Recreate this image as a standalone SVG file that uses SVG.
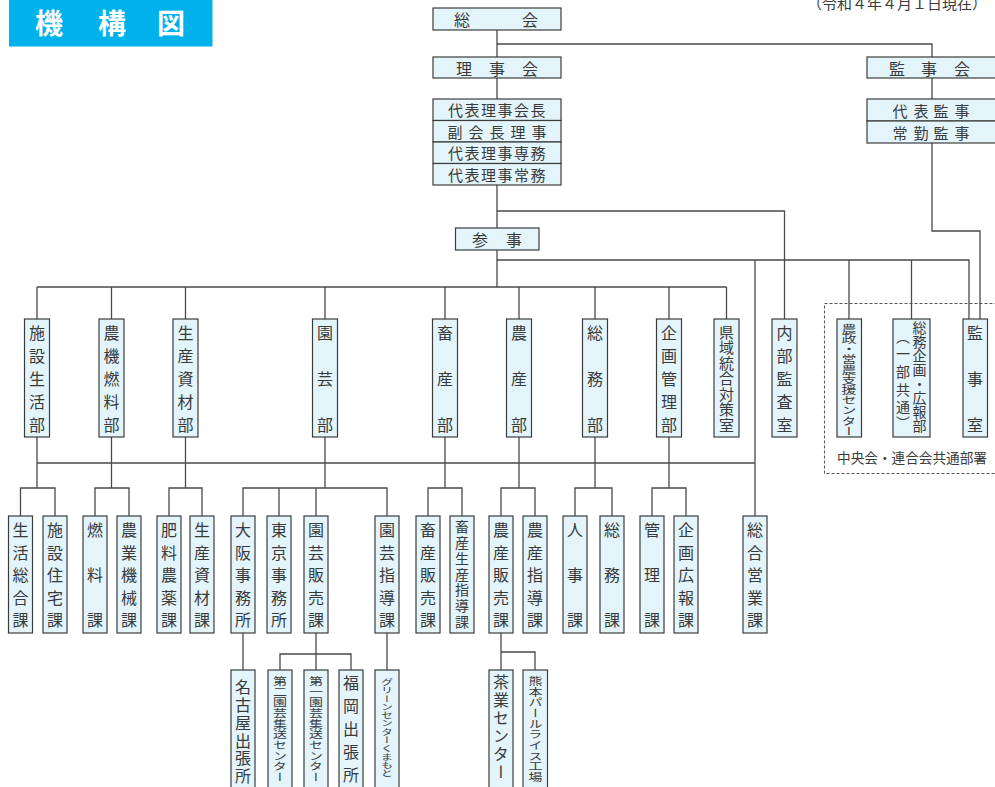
<svg xmlns="http://www.w3.org/2000/svg" width="995" height="787" viewBox="0 0 995 787">
<style>
.box{fill:#E3F4FB;stroke:#3c3c3c;stroke-width:1.2}
.ln{stroke:#4a4a4a;stroke-width:1.3;fill:none}
.t{font-family:"Noto Sans CJK JP","Noto Sans",sans-serif;fill:#3a3a3a;font-size:16px}
.h{dominant-baseline:central;text-anchor:middle}
.v{writing-mode:vertical-rl;text-anchor:middle}
.s14{font-size:14px}.s12{font-size:12px}.s15{font-size:15px}
.dash{fill:none;stroke:#555;stroke-width:1.1;stroke-dasharray:3 2}
</style>
<rect width="995" height="787" fill="#fff"/>
<g id="title"><rect x="9" y="-1" width="203.5" height="47.5" fill="#00B2EC"/><text class="h" x="49 112 171" y="22" font-family="'Noto Sans CJK JP',sans-serif" font-weight="bold" font-size="28" fill="#fff">機構図</text></g>
<text id="date" class="t s15" x="807" y="2" dominant-baseline="central">（令和４年４月１日現在）</text>
<g id="connectors" class="ln"><path d="M497 30V57M497 78V99M497 185V228M497 250V287M497 44H932V57M932 78V99M932 143V231H980V319M497 211H784.5V319M497 260H969V319M755 260V516M849 260V319M911.5 260V319M37 287H726.5M37 287V319M111.5 287V319M185.5 287V319M325 287V319M445 287V319M519 287V319M595 287V319M669 287V319M726.5 287V319M37 437V488M111.5 437V488M185.5 437V488M325 437V488M445 437V488M519 437V488M595 437V488M669 437V488M37 463H755M20.5 516V488H55V516M95 516V488H129V516M169 516V488H202V516M243 516V488H387V516M279 488V516M316 488V516M428 516V488H462V516M501 516V488H535V516M575 516V488H612V516M652 516V488H686V516M243 633V670M316 633V670M280 670V654H351V670M387 633V670M501 633V670M501 652H535V670"/></g>
<g id="soukai"><rect class="box" x="433" y="8" width="128" height="22"/><text class="t h" x="462 530" y="19">総会</text></g>
<g id="rijikai"><rect class="box" x="433" y="57" width="128" height="21"/><text class="t h" x="464 497 530" y="67.5">理事会</text></g>
<g id="yakuin"><rect class="box" x="433" y="99" width="128" height="21.5"/><rect class="box" x="433" y="120.5" width="128" height="21.5"/><rect class="box" x="433" y="142" width="128" height="21.5"/><rect class="box" x="433" y="163.5" width="128" height="21.5"/>
<text class="t h s15" x="455.5 472 488.5 505 521.5 538" y="109.75">代表理事会長</text><text class="t h s15" x="455 476 497 518 539" y="131.25">副会長理事</text><text class="t h s15" x="455.5 472 488.5 505 521.5 538" y="152.75">代表理事専務</text><text class="t h s15" x="455.5 472 488.5 505 521.5 538" y="174.25">代表理事常務</text></g>
<g id="kanjikai"><rect class="box" x="867" y="57" width="130" height="21"/><text class="t h" x="897 929 962" y="67.5">監事会</text></g>
<g id="kanji"><rect class="box" x="867" y="99" width="130" height="22"/><rect class="box" x="867" y="121" width="130" height="22"/><text class="t h s15" x="900 921 941 962" y="110">代表監事</text><text class="t h s15" x="900 921 941 962" y="132">常勤監事</text></g>
<g id="sanji"><rect class="box" x="455.5" y="228" width="83.5" height="22"/><text class="t h" x="480 514" y="239">参事</text></g>
<rect class="dash" x="824.5" y="303.5" width="180" height="170"/>
<text id="kyotsu" class="t s14" x="837" y="457" dominant-baseline="central" textLength="150" lengthAdjust="spacingAndGlyphs">中央会・連合会共通部署</text>
<g id="d1"><rect class="box" x="24.5" y="319" width="25" height="118"/><text class="t v" x="37" y="333 356 379 402 425">施設生活部</text></g>
<g id="d2"><rect class="box" x="99" y="319" width="25" height="118"/><text class="t v" x="111.5" y="333 356 379 402 425">農機燃料部</text></g>
<g id="d3"><rect class="box" x="173" y="319" width="25" height="118"/><text class="t v" x="185.5" y="333 356 379 402 425">生産資材部</text></g>
<g id="d4"><rect class="box" x="312.5" y="319" width="25" height="118"/><text class="t v" x="325" y="333 379 425">園芸部</text></g>
<g id="d5"><rect class="box" x="432.5" y="319" width="25" height="118"/><text class="t v" x="445" y="333 379 425">畜産部</text></g>
<g id="d6"><rect class="box" x="506.5" y="319" width="25" height="118"/><text class="t v" x="519" y="333 379 425">農産部</text></g>
<g id="d7"><rect class="box" x="582.5" y="319" width="25" height="118"/><text class="t v" x="595" y="333 379 425">総務部</text></g>
<g id="d8"><rect class="box" x="656.5" y="319" width="25" height="118"/><text class="t v" x="669" y="333 356 379 402 425">企画管理部</text></g>
<g id="d9"><rect class="box" x="714" y="319" width="25" height="118"/><text class="t v s15" x="726.5" y="332 347.5 363 378.5 394 409.5 425">県域統合対策室</text></g>
<g id="d10"><rect class="box" x="772" y="319" width="25" height="118"/><text class="t v" x="784.5" y="333 356 379 402 425">内部監査室</text></g>
<g id="d11"><rect class="box" x="837" y="319" width="24.5" height="118"/><text class="t v s15" x="849" y="305 320 335 350 365 380 395 410 425 440 455" transform="matrix(1,0,0,0.68,0,121.6)">農政・営農支援センター</text></g>
<g id="d12"><rect class="box" x="893" y="319" width="37" height="118"/><text class="t v s14" x="919.5" y="328 341.9 355.8 369.7 383.6 397.5 411.4 425.3">総務企画・広報部</text><text class="t v s14" x="903" y="337 354 372 390 407 423">（一部共通）</text></g>
<g id="d13"><rect class="box" x="963" y="319" width="24.5" height="118"/><text class="t v" x="975" y="333 379 425">監事室</text></g>
<g id="k1"><rect class="box" x="8.5" y="516" width="24" height="117"/><text class="t v" x="20.5" y="530 552.5 575 597.5 620">生活総合課</text></g>
<g id="k2"><rect class="box" x="43" y="516" width="24" height="117"/><text class="t v" x="55" y="530 552.5 575 597.5 620">施設住宅課</text></g>
<g id="k3"><rect class="box" x="83" y="516" width="24" height="117"/><text class="t v" x="95" y="530 575 620">燃料課</text></g>
<g id="k4"><rect class="box" x="117" y="516" width="24" height="117"/><text class="t v" x="129" y="530 552.5 575 597.5 620">農業機械課</text></g>
<g id="k5"><rect class="box" x="157" y="516" width="24" height="117"/><text class="t v" x="169" y="530 552.5 575 597.5 620">肥料農薬課</text></g>
<g id="k6"><rect class="box" x="190" y="516" width="24" height="117"/><text class="t v" x="202" y="530 552.5 575 597.5 620">生産資材課</text></g>
<g id="k7"><rect class="box" x="231" y="516" width="24" height="117"/><text class="t v" x="243" y="530 552.5 575 597.5 620">大阪事務所</text></g>
<g id="k8"><rect class="box" x="267" y="516" width="24" height="117"/><text class="t v" x="279" y="530 552.5 575 597.5 620">東京事務所</text></g>
<g id="k9"><rect class="box" x="304" y="516" width="24" height="117"/><text class="t v" x="316" y="530 552.5 575 597.5 620">園芸販売課</text></g>
<g id="k10"><rect class="box" x="375" y="516" width="24" height="117"/><text class="t v" x="387" y="530 552.5 575 597.5 620">園芸指導課</text></g>
<g id="k11"><rect class="box" x="416" y="516" width="24" height="117"/><text class="t v" x="428" y="530 552.5 575 597.5 620">畜産販売課</text></g>
<g id="k12"><rect class="box" x="450" y="516" width="24" height="117"/><text class="t v s14" x="462" y="527 543 559 574.5 590 606 622">畜産生産指導課</text></g>
<g id="k13"><rect class="box" x="489" y="516" width="24" height="117"/><text class="t v" x="501" y="530 552.5 575 597.5 620">農産販売課</text></g>
<g id="k14"><rect class="box" x="523" y="516" width="24" height="117"/><text class="t v" x="535" y="530 552.5 575 597.5 620">農産指導課</text></g>
<g id="k15"><rect class="box" x="563" y="516" width="24" height="117"/><text class="t v" x="575" y="530 575 620">人事課</text></g>
<g id="k16"><rect class="box" x="600" y="516" width="24" height="117"/><text class="t v" x="612" y="530 575 620">総務課</text></g>
<g id="k17"><rect class="box" x="640" y="516" width="24" height="117"/><text class="t v" x="652" y="530 575 620">管理課</text></g>
<g id="k18"><rect class="box" x="674" y="516" width="24" height="117"/><text class="t v" x="686" y="530 552.5 575 597.5 620">企画広報課</text></g>
<g id="k19"><rect class="box" x="743" y="516" width="24" height="117"/><text class="t v" x="755" y="530 552.5 575 597.5 620">総合営業課</text></g>
<g id="b1"><rect class="box" x="231" y="670" width="24" height="125"/><text class="t v" x="243" y="687 705 723 741 758 776">名古屋出張所</text></g>
<g id="b2"><rect class="box" x="268" y="670" width="24" height="125"/><text class="t v s14" x="280" y="666 680 694 708 722 736 750 764 778 792" transform="matrix(1,0,0,0.762,0,173.5)">第二園芸集送センター</text></g>
<g id="b3"><rect class="box" x="304" y="670" width="24" height="125"/><text class="t v s14" x="316" y="666 680 694 708 722 736 750 764 778 792" transform="matrix(1,0,0,0.762,0,173.5)">第一園芸集送センター</text></g>
<g id="b4"><rect class="box" x="339" y="670" width="24" height="125"/><text class="t v" x="351" y="683 706 729 752 775">福岡出張所</text></g>
<g id="b5"><rect class="box" x="375" y="670" width="24" height="125"/><text class="t v s12" x="387" y="661.5 673.5 685.5 697.5 709.5 721.5 733.5 745.5 757.5 769.5 781.5 793.5" transform="matrix(1,0,0,0.69,0,225.5)">グリーンセンターくまもと</text></g>
<g id="b6"><rect class="box" x="489" y="670" width="24" height="125"/><text class="t v" x="501" y="682 700 718 736 754 772">茶業センター</text></g>
<g id="b7"><rect class="box" x="523" y="670" width="24.5" height="125"/><text class="t v s14" x="535.5" y="666 680 694 708 722 736 750 764 778 792" transform="matrix(1,0,0,0.762,0,173.5)">熊本パールライス工場</text></g>
</svg>
